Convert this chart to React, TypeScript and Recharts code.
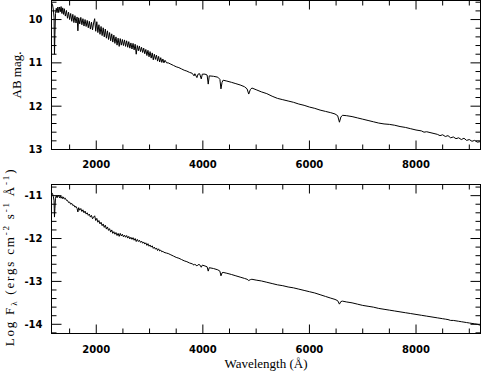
import { LineChart, Line, XAxis, YAxis, ReferenceArea } from "recharts";

// wavelength grid (Å)
const wavelength = [
  1165, 1180, 1195, 1208, 1216, 1224, 1235, 1250, 1265, 1280,
  1295, 1310, 1325, 1340, 1355, 1370, 1385, 1400, 1420, 1440,
  1460, 1480, 1500, 1520, 1540, 1560, 1580, 1600, 1620, 1640,
  1655, 1670, 1690, 1710, 1730, 1750, 1770, 1790, 1810, 1830,
  1850, 1870, 1890, 1910, 1930, 1950, 1970, 1990, 2010, 2030,
  2050, 2070, 2090, 2110, 2130, 2150, 2170, 2190, 2210, 2230,
  2250, 2270, 2290, 2310, 2330, 2350, 2370, 2390, 2410, 2430,
  2450, 2470, 2490, 2510, 2530, 2550, 2570, 2590, 2610, 2630,
  2650, 2670, 2690, 2710, 2730, 2750, 2770, 2790, 2810, 2830,
  2850, 2870, 2890, 2910, 2930, 2950, 2970, 2990, 3010, 3030,
  3050, 3070, 3090, 3110, 3130, 3150, 3170, 3190, 3210, 3230,
  3250, 3270, 3290, 3320, 3350, 3400, 3450, 3500, 3550, 3600,
  3650, 3700, 3750, 3800, 3835, 3850, 3889, 3910, 3940, 3970,
  3990, 4040, 4080, 4101, 4120, 4200, 4280, 4320, 4340, 4360,
  4380, 4450, 4540, 4620, 4700, 4780, 4830, 4861, 4890, 4920,
  5000, 5100, 5200, 5300, 5400, 5500, 5600, 5700, 5800, 5900,
  6000, 6100, 6200, 6300, 6400, 6480, 6530, 6563, 6590, 6620,
  6700, 6800, 6900, 7000, 7100, 7200, 7300, 7400, 7500, 7600,
  7700, 7800, 7900, 8000, 8100, 8150, 8200, 8300, 8400, 8450,
  8500, 8550, 8600, 8650, 8700, 8750, 8800, 8850, 8900, 8950,
  9000, 9050, 9100, 9150, 9200,
];

// AB magnitude (top panel)
const abMag = [
  9.62, 9.66, 9.78, 9.95, 10.8, 10.35, 9.86, 9.74, 9.84, 9.71,
  9.84, 9.71, 9.82, 9.7, 9.86, 9.73, 9.88, 9.75, 9.92, 9.79,
  9.97, 9.83, 10.0, 9.86, 10.04, 9.88, 10.07, 9.91, 10.08, 9.94,
  10.26, 9.96, 10.1, 9.95, 10.12, 9.98, 10.15, 10.0, 10.16, 10.02,
  10.19, 10.04, 10.22, 10.06, 10.24, 10.08, 9.98, 10.27, 10.05, 10.3,
  10.12, 10.34, 10.16, 10.37, 10.19, 10.4, 10.22, 10.43, 10.26, 10.46,
  10.3, 10.49, 10.33, 10.52, 10.36, 10.55, 10.4, 10.59, 10.43, 10.62,
  10.44, 10.59, 10.46, 10.6, 10.47, 10.62, 10.49, 10.64, 10.51, 10.66,
  10.54, 10.68, 10.55, 10.7, 10.57, 10.8, 10.6, 10.72, 10.61, 10.74,
  10.64, 10.76, 10.66, 10.79, 10.69, 10.83, 10.71, 10.86, 10.74, 10.89,
  10.77, 10.93, 10.8, 10.92, 10.82, 10.96, 10.85, 10.98, 10.88, 10.99,
  10.91, 11.0, 10.94, 11.0, 11.0, 11.03, 11.06, 11.09, 11.11, 11.14,
  11.17, 11.19, 11.22, 11.24, 11.3, 11.25, 11.34, 11.26, 11.25, 11.37,
  11.26, 11.26, 11.28, 11.49, 11.3, 11.31, 11.33, 11.38, 11.6, 11.45,
  11.4, 11.42, 11.45, 11.48, 11.51, 11.55, 11.6, 11.72, 11.62, 11.58,
  11.62, 11.67, 11.71, 11.77, 11.82, 11.85, 11.88, 11.91, 11.95, 11.98,
  12.02, 12.05, 12.09, 12.12, 12.15, 12.18, 12.22, 12.37, 12.25, 12.21,
  12.22, 12.24, 12.27, 12.3, 12.33, 12.36, 12.39, 12.41, 12.42, 12.44,
  12.47, 12.49, 12.52, 12.55, 12.57, 12.6, 12.59, 12.62, 12.65, 12.68,
  12.66, 12.7, 12.68, 12.73, 12.71, 12.75, 12.73, 12.77, 12.74, 12.79,
  12.77, 12.81, 12.79, 12.83, 12.82,
];

// log F_lambda (bottom panel)
const logFlux = [
  -10.93, -10.96, -11.02, -11.12, -11.5, -11.3, -11.06, -11.0, -11.05, -11.0,
  -11.0, -11.05, -11.01, -11.06, -11.02, -11.07, -11.03, -11.08, -11.06, -11.11,
  -11.11, -11.16, -11.15, -11.2, -11.18, -11.23, -11.22, -11.27, -11.25, -11.3,
  -11.38, -11.28, -11.34, -11.3, -11.37, -11.33, -11.4, -11.36, -11.43, -11.4,
  -11.46, -11.43, -11.5, -11.46, -11.54, -11.5, -11.47, -11.58, -11.53, -11.62,
  -11.58, -11.66, -11.62, -11.7, -11.66, -11.74, -11.69, -11.78, -11.73, -11.81,
  -11.77, -11.85, -11.8, -11.88, -11.84, -11.9, -11.86, -11.93, -11.88, -11.95,
  -11.88, -11.94, -11.9, -11.96, -11.92, -11.97, -11.93, -11.99, -11.95, -12.01,
  -11.97, -12.02, -11.98, -12.04, -12.0, -12.07, -12.02, -12.07, -12.04, -12.09,
  -12.06, -12.11, -12.08, -12.13, -12.1, -12.16, -12.12, -12.18, -12.15, -12.2,
  -12.17, -12.23, -12.2, -12.25, -12.22, -12.28, -12.24, -12.29, -12.27, -12.31,
  -12.3, -12.32, -12.33, -12.34, -12.35, -12.38, -12.41, -12.44, -12.46, -12.49,
  -12.52, -12.54, -12.57, -12.59, -12.62, -12.6, -12.64, -12.61, -12.61, -12.67,
  -12.62, -12.64, -12.66, -12.76, -12.68, -12.7, -12.73, -12.76, -12.87, -12.8,
  -12.79, -12.81, -12.84, -12.87, -12.9, -12.93, -12.95, -12.98, -12.96, -12.95,
  -12.97, -12.99, -13.02, -13.05, -13.08, -13.1, -13.13, -13.15, -13.18, -13.21,
  -13.24, -13.27, -13.31, -13.35, -13.39, -13.42, -13.45, -13.53, -13.47, -13.46,
  -13.48, -13.5, -13.53, -13.56, -13.58, -13.6, -13.63, -13.65, -13.67, -13.69,
  -13.71, -13.73, -13.75, -13.77, -13.79, -13.8, -13.81, -13.83, -13.85, -13.86,
  -13.87, -13.88, -13.89, -13.91, -13.91, -13.92, -13.93, -13.94, -13.95, -13.96,
  -13.97, -13.98, -13.99, -14.0, -14.02,
];

const xMajor = [2000, 4000, 6000, 8000];
const xMinor = [1500, 2500, 3000, 3500, 4500, 5000, 5500, 6500, 7000, 7500, 8500, 9000];
const magMajor = [10, 11, 12, 13];
const magMinor = [9.6, 9.8, 10.2, 10.4, 10.6, 10.8, 11.2, 11.4, 11.6, 11.8, 12.2, 12.4, 12.6, 12.8];
const fluxMajor = [-14, -13, -12, -11];
const fluxMinor = [
  -14.2, -13.8, -13.6, -13.4, -13.2, -12.8, -12.6, -12.4, -12.2, -11.8, -11.6, -11.4, -11.2, -10.8,
];

const magData = wavelength.map((wl, i) => ({ wl, val: abMag[i] }));
const fluxData = wavelength.map((wl, i) => ({ wl, val: logFlux[i] }));

const xTicks = [...xMajor, ...xMinor].sort((a, b) => a - b);
const magTicks = [...magMajor, ...magMinor].sort((a, b) => a - b);
const fluxTicks = [...fluxMajor, ...fluxMinor].sort((a, b) => a - b);

const PLOT_LEFT = 51.5;
const PLOT_RIGHT = 480.5;
const LABEL_FONT = "DejaVu Sans";
const TITLE_FONT = "Liberation Serif";

// x tick: label below + inward marks on bottom and top edges
const makeXTick = (top: number, bottom: number) => (props: any) => {
  const { x, y, payload } = props;
  const major = xMajor.includes(payload.value);
  const len = major ? 9 : 5;
  return (
    <g>
      <path d={`M${x},${bottom}L${x},${bottom - len}`} stroke="#000" />
      <path d={`M${x},${top}L${x},${top + len}`} stroke="#000" />
      {major ? (
        <text x={x} y={y} dy="0.71em" textAnchor="middle" fill="#000" fontSize={10} fontFamily={LABEL_FONT} fontWeight="bold">
          {payload.value}
        </text>
      ) : null}
    </g>
  );
};

// y tick: label on the left + inward marks on left and right edges
const makeYTick = (major: number[]) => (props: any) => {
  const { x, y, payload } = props;
  const isMajor = major.includes(payload.value);
  const len = isMajor ? 10 : 5;
  return (
    <g>
      <path d={`M${PLOT_LEFT},${y}L${PLOT_LEFT + len},${y}`} stroke="#000" />
      <path d={`M${PLOT_RIGHT},${y}L${PLOT_RIGHT - len},${y}`} stroke="#000" />
      {isMajor ? (
        <text x={x} y={y} dy="0.36em" textAnchor="end" fill="#000" fontSize={10} fontFamily={LABEL_FONT} fontWeight="bold">
          {payload.value}
        </text>
      ) : null}
    </g>
  );
};

function Panel({ data, height, marginTop, xAxisHeight, xTickMargin, yDomain, reversed, yTicks, yMajor }: any) {
  const bottom = height - 0.5 - xAxisHeight;
  return (
    <LineChart width={481} height={height} data={data} margin={{ top: marginTop, right: 0.5, bottom: 0.5, left: 0.5 }}>
      <XAxis
        dataKey="wl"
        type="number"
        domain={[1160, 9210]}
        ticks={xTicks}
        interval={0}
        tickLine={false}
        axisLine={false}
        tickSize={0}
        tickMargin={xTickMargin}
        height={xAxisHeight}
        tick={makeXTick(marginTop, bottom)}
      />
      <YAxis
        type="number"
        domain={yDomain}
        reversed={reversed}
        ticks={yTicks}
        interval={0}
        tickLine={false}
        axisLine={false}
        tickSize={0}
        tickMargin={9}
        width={51}
        tick={makeYTick(yMajor)}
      />
      <Line dataKey="val" stroke="#000" dot={false} isAnimationActive={false} />
      <ReferenceArea
        x1={1160}
        x2={9210}
        y1={yDomain[0]}
        y2={yDomain[1]}
        fill="none"
        stroke="#000"
        ifOverflow="visible"
      />
    </LineChart>
  );
}

const frameBox = { position: "absolute" as const, left: 51, width: 430, height: 150, border: "1px solid #000", boxSizing: "border-box" as const, pointerEvents: "none" as const };

export default function App() {
  return (
    <div style={{ position: "absolute", left: 0, top: 0, width: 481, height: 374 }}>
      <div style={{ position: "absolute", left: 0, top: 0 }}>
        <Panel
          data={magData}
          height={180}
          marginTop={0.5}
          xAxisHeight={30}
          xTickMargin={11}
          yDomain={[9.56, 13]}
          reversed
          yTicks={magTicks}
          yMajor={magMajor}
        />
      </div>
      <div style={{ position: "absolute", left: 0, top: 180 }}>
        <Panel
          data={fluxData}
          height={194}
          marginTop={4.5}
          xAxisHeight={40}
          xTickMargin={12}
          yDomain={[-14.215, -10.74]}
          reversed={false}
          yTicks={fluxTicks}
          yMajor={fluxMajor}
        />
      </div>
      {/* plot frames */}
      <div style={{ ...frameBox, top: 0 }} />
      <div style={{ ...frameBox, top: 184 }} />
      {/* axis titles */}
      <svg width={481} height={374} style={{ position: "absolute", left: 0, top: 0, pointerEvents: "none" }}>
        <text x={21} y={75} transform="rotate(-90 21 75)" textAnchor="middle" fill="#000" fontSize={13} fontFamily={TITLE_FONT}>
          AB mag.
        </text>
        <text
          x={14}
          y={257}
          transform="rotate(-90 14 257)"
          textAnchor="middle"
          fill="#000"
          fontSize={13}
          fontFamily={TITLE_FONT}
          letterSpacing={1.8}
        >
          Log F
          <tspan fontSize={9} dy={3}>λ</tspan>
          <tspan dy={-3}> (ergs cm</tspan>
          <tspan fontSize={9} dy={-5}>-2</tspan>
          <tspan dy={5}> s</tspan>
          <tspan fontSize={9} dy={-5}>-1</tspan>
          <tspan dy={5}> Å</tspan>
          <tspan fontSize={9} dy={-5}>-1</tspan>
          <tspan dy={5}>)</tspan>
        </text>
        <text x={266} y={368} textAnchor="middle" fill="#000" fontSize={13} fontFamily={TITLE_FONT}>
          Wavelength (Å)
        </text>
      </svg>
    </div>
  );
}
